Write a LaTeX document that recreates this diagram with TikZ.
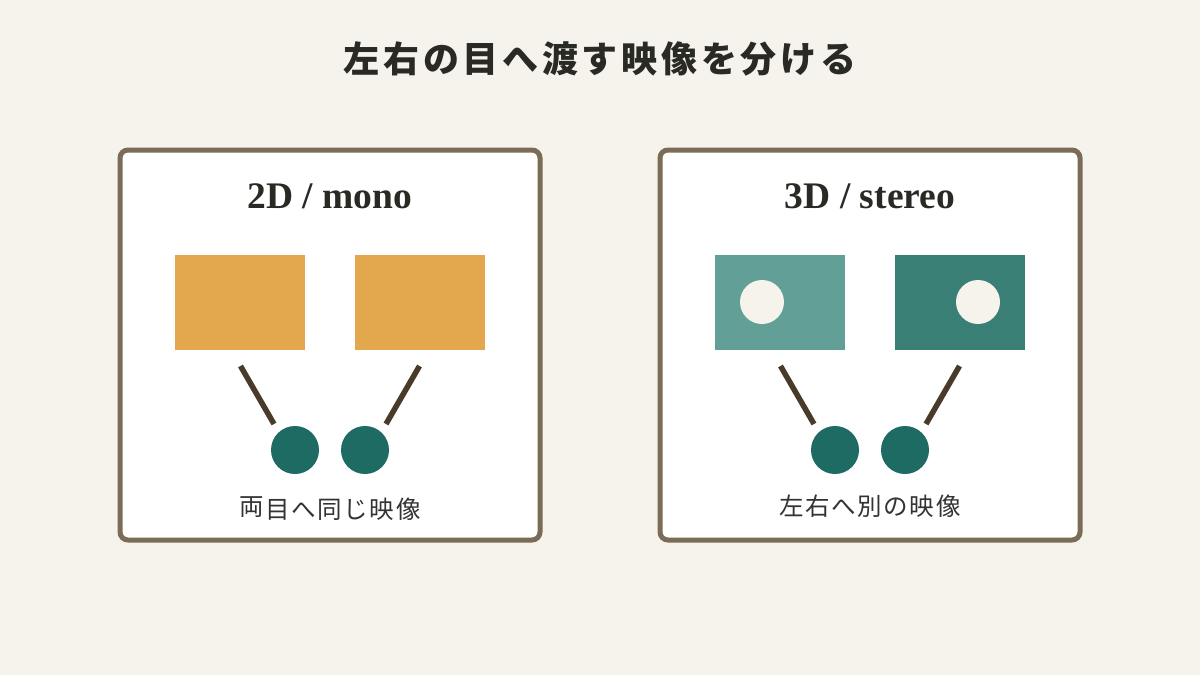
\documentclass[tikz,border=0pt]{standalone}
\usepackage{fontspec}
\setmainfont{Liberation Serif}
\newfontfamily\jp{Noto Sans CJK JP}
\definecolor{bg}{HTML}{F6F3EC}
\definecolor{frame}{HTML}{7A6C57}
\definecolor{orangeA}{HTML}{E3A84E}
\definecolor{tealL}{HTML}{62A097}
\definecolor{tealD}{HTML}{3A7F75}
\definecolor{eyec}{HTML}{1E6B63}
\definecolor{stick}{HTML}{4A3A2A}
\definecolor{ink}{HTML}{2A2A25}
\definecolor{cap}{HTML}{333333}
\newcommand{\ks}{\kern1.6pt }
\begin{document}
\begin{tikzpicture}[x=1pt,y=-1pt,
  panel/.style={draw=frame,line width=5pt,fill=white,rounded corners=8pt,minimum width=420pt,minimum height=390pt,inner sep=0pt},
  screen/.style={inner sep=0pt,minimum width=130pt,minimum height=95pt},
  dot/.style={circle,fill=bg,inner sep=0pt,minimum size=44pt},
  eye/.style={circle,fill=eyec,inner sep=0pt,minimum size=48pt},
  ray/.style={draw=stick,line width=5.5pt},
  ptitle/.style={font=\fontsize{37.5}{40}\selectfont\bfseries,text=ink,inner sep=0pt},
  caption/.style={font=\jp\fontsize{24.5}{28}\selectfont,text=cap,inner sep=0pt}]
\fill[bg] (0,0) rectangle (1200,675);
\useasboundingbox (0,0) rectangle (1200,675);
\node[font=\jp\bfseries\fontsize{36}{40}\selectfont,text=ink,inner sep=0pt] (title) at (600,59)
 {左\kern3.7pt 右\kern3.7pt の\kern3.7pt 目\kern3.7pt へ\kern3.7pt 渡\kern3.7pt す\kern3.7pt 映\kern3.7pt 像\kern3.7pt を\kern3.7pt 分\kern3.7pt け\kern3.7pt る};
% left panel
\node[panel] (p1) at (330,345) {};
\node[ptitle] (t1) at (330,196) {2D / mono};
\node[screen,fill=orangeA] (s1) at (240,302.5) {};
\node[screen,fill=orangeA] (s2) at (420,302.5) {};
\node[eye] (e1) at (295,450) {};
\node[eye] (e2) at (365,450) {};
\coordinate (a1) at (240.5,366);
\coordinate (b1) at (274,424);
\coordinate (a2) at (419.5,366);
\coordinate (b2) at (386,424);
\draw[ray] (a1) -- (b1);
\draw[ray] (a2) -- (b2);
\node[caption] (c1) at (330,509) {\raisebox{3pt}{両}\ks 目\ks へ\ks 同\ks じ\ks 映\ks 像};
% right panel
\node[panel] (p2) at (870,345) {};
\node[ptitle] (t2) at (870,196) {3D / stereo};
\node[screen,fill=tealL] (s3) at (780,302.5) {};
\node[screen,fill=tealD] (s4) at (960,302.5) {};
\node[dot] (d3) at (762,302) {};
\node[dot] (d4) at (978,302) {};
\node[eye] (e3) at (835,450) {};
\node[eye] (e4) at (905,450) {};
\coordinate (a3) at (780.5,366);
\coordinate (b3) at (814,424);
\coordinate (a4) at (959.5,366);
\coordinate (b4) at (926,424);
\draw[ray] (a3) -- (b3);
\draw[ray] (a4) -- (b4);
\node[caption] (c2) at (870,506) {左\ks 右\ks へ\ks 別\ks の\ks 映\ks 像};
\end{tikzpicture}
\end{document}
